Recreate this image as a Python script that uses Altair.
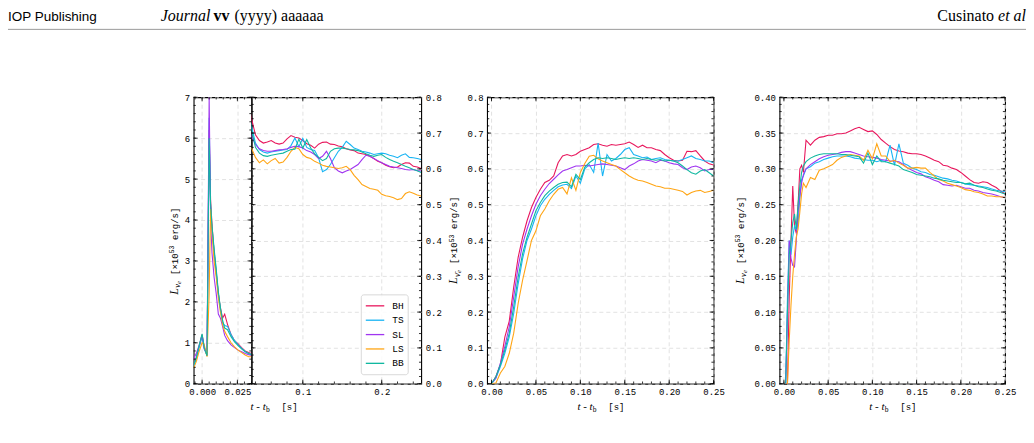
import altair as alt
import numpy as np
import pandas as pd

MODELS = ["BH", "TS", "SL", "LS", "BB"]
COLORS = ["#e8175d", "#18b4f4", "#a035f0", "#ffa514", "#10b8a0"]

# ---------------- nu_e luminosity (left panel, broken axis) ----------------
T_NUE_EARLY = [-0.006, -0.004, -0.002, 0.0, 0.0015, 0.0035, 0.005, 0.006, 0.007, 0.0085,
               0.01, 0.0115, 0.013, 0.0145, 0.016, 0.018, 0.0205, 0.023, 0.0255, 0.028,
               0.0305, 0.033]
NUE_EARLY = {
    "BH": [0.45, 0.65, 0.92, 1.20, 0.90, 0.68, 6.20, 4.50, 3.90, 3.20, 2.70, 2.20, 1.85, 1.60,
           1.70, 1.45, 1.20, 1.05, 0.97, 0.88, 0.80, 0.76],
    "TS": [0.42, 0.62, 0.90, 1.15, 0.85, 0.70, 6.50, 4.30, 3.80, 3.25, 2.75, 2.20, 1.80, 1.50,
           1.42, 1.40, 1.20, 1.05, 0.95, 0.86, 0.79, 0.74],
    "SL": [0.60, 0.75, 0.95, 1.18, 0.85, 0.72, 7.00, 4.00, 3.20, 2.60, 2.20, 1.70, 1.60, 1.40,
           1.18, 1.05, 0.95, 0.88, 0.82, 0.78, 0.74, 0.71],
    "LS": [0.38, 0.55, 0.80, 1.00, 0.95, 0.66, 2.20, 4.27, 3.70, 3.00, 2.60, 2.10, 1.75, 1.45,
           1.28, 1.15, 1.00, 0.90, 0.82, 0.76, 0.70, 0.66],
    "BB": [0.45, 0.65, 0.95, 1.22, 0.88, 0.68, 6.00, 4.40, 3.85, 3.30, 2.80, 2.25, 1.85, 1.55,
           1.36, 1.32, 1.15, 1.02, 0.93, 0.85, 0.78, 0.74],
}
T_NUE_LATE = [0.035, 0.04, 0.045, 0.05, 0.055, 0.06, 0.065, 0.07, 0.075, 0.08, 0.085, 0.09,
              0.095, 0.1, 0.105, 0.11, 0.115, 0.12, 0.125, 0.13, 0.135, 0.14, 0.145, 0.15,
              0.155, 0.16, 0.165, 0.17, 0.175, 0.18, 0.185, 0.19, 0.195, 0.2, 0.205, 0.21,
              0.215, 0.22, 0.225, 0.23, 0.235, 0.24, 0.245, 0.25]
NUE_LATE = {
    "BH": [0.740, 0.695, 0.679, 0.672, 0.675, 0.679, 0.672, 0.669, 0.672, 0.684, 0.693, 0.688,
           0.686, 0.679, 0.670, 0.666, 0.658, 0.669, 0.674, 0.675, 0.669, 0.668, 0.664, 0.662,
           0.656, 0.653, 0.651, 0.644, 0.642, 0.640, 0.635, 0.629, 0.621, 0.617, 0.610, 0.606,
           0.603, 0.605, 0.612, 0.617, 0.616, 0.607, 0.605, 0.601],
    "TS": [0.719, 0.672, 0.654, 0.647, 0.644, 0.647, 0.649, 0.651, 0.653, 0.654, 0.665, 0.686,
           0.662, 0.685, 0.660, 0.654, 0.651, 0.631, 0.592, 0.598, 0.612, 0.631, 0.649, 0.660,
           0.677, 0.668, 0.658, 0.654, 0.649, 0.647, 0.644, 0.640, 0.642, 0.644, 0.642, 0.638,
           0.635, 0.631, 0.638, 0.642, 0.632, 0.631, 0.629, 0.626],
    "SL": [0.691, 0.668, 0.656, 0.651, 0.649, 0.649, 0.651, 0.653, 0.654, 0.656, 0.660, 0.663,
           0.662, 0.658, 0.651, 0.647, 0.640, 0.629, 0.635, 0.649, 0.629, 0.603, 0.594, 0.589,
           0.594, 0.598, 0.605, 0.612, 0.626, 0.638, 0.635, 0.629, 0.623, 0.617, 0.612, 0.607,
           0.605, 0.603, 0.601, 0.598, 0.597, 0.598, 0.595, 0.594],
    "LS": [0.658, 0.632, 0.617, 0.625, 0.614, 0.623, 0.629, 0.616, 0.619, 0.632, 0.649, 0.660,
           0.656, 0.640, 0.632, 0.629, 0.621, 0.616, 0.610, 0.607, 0.605, 0.603, 0.601, 0.603,
           0.607, 0.598, 0.582, 0.570, 0.556, 0.551, 0.545, 0.543, 0.540, 0.529, 0.525, 0.523,
           0.519, 0.514, 0.517, 0.531, 0.536, 0.532, 0.527, 0.524],
    "BB": [0.709, 0.660, 0.644, 0.637, 0.635, 0.638, 0.640, 0.642, 0.644, 0.649, 0.654, 0.655,
           0.683, 0.658, 0.682, 0.658, 0.642, 0.632, 0.623, 0.629, 0.649, 0.656, 0.658, 0.658,
           0.656, 0.654, 0.653, 0.651, 0.647, 0.642, 0.638, 0.635, 0.638, 0.640, 0.632, 0.626,
           0.621, 0.617, 0.612, 0.607, 0.603, 0.598, 0.595, 0.590],
}

# ---------------- anti nu_e luminosity ----------------
T_NUEBAR = [0.0, 0.005, 0.01, 0.015, 0.02, 0.025, 0.03, 0.035, 0.04, 0.045, 0.05, 0.055,
            0.06, 0.065, 0.07, 0.075, 0.08, 0.085, 0.09, 0.095, 0.1, 0.105, 0.11, 0.115,
            0.12, 0.125, 0.13, 0.135, 0.14, 0.145, 0.15, 0.155, 0.16, 0.165, 0.17, 0.175,
            0.18, 0.185, 0.19, 0.195, 0.2, 0.205, 0.21, 0.215, 0.22, 0.225, 0.23, 0.235,
            0.24, 0.245, 0.25]
NUEBAR = {
    "BH": [0.0, 0.02, 0.053, 0.13, 0.175, 0.27, 0.353, 0.409, 0.455, 0.492, 0.52, 0.543, 0.562,
           0.568, 0.58, 0.617, 0.636, 0.64, 0.636, 0.64, 0.649, 0.654, 0.659, 0.668, 0.67,
           0.666, 0.663, 0.668, 0.666, 0.668, 0.67, 0.675, 0.668, 0.66, 0.666, 0.659, 0.659,
           0.654, 0.651, 0.64, 0.631, 0.624, 0.622, 0.624, 0.649, 0.648, 0.651, 0.636, 0.622,
           0.614, 0.611],
    "TS": [0.0, 0.016, 0.048, 0.085, 0.131, 0.196, 0.279, 0.349, 0.4, 0.432, 0.469, 0.497,
           0.515, 0.529, 0.54, 0.55, 0.555, 0.557, 0.545, 0.58, 0.56, 0.6, 0.612, 0.59, 0.672,
           0.58, 0.64, 0.622, 0.629, 0.64, 0.654, 0.659, 0.64, 0.636, 0.631, 0.633, 0.626,
           0.629, 0.631, 0.626, 0.624, 0.622, 0.622, 0.626, 0.631, 0.636, 0.629, 0.626, 0.622,
           0.622, 0.617],
    "SL": [0.0, 0.016, 0.057, 0.104, 0.159, 0.242, 0.326, 0.39, 0.432, 0.469, 0.501, 0.525,
           0.543, 0.559, 0.571, 0.583, 0.594, 0.598, 0.603, 0.608, 0.608, 0.61, 0.608, 0.61,
           0.612, 0.614, 0.612, 0.61, 0.608, 0.603, 0.598, 0.608, 0.614, 0.622, 0.626, 0.624,
           0.622, 0.617, 0.624, 0.622, 0.617, 0.614, 0.612, 0.603, 0.598, 0.605, 0.608, 0.603,
           0.594, 0.598, 0.598],
    "LS": [0.0, 0.002, 0.03, 0.048, 0.085, 0.141, 0.224, 0.289, 0.344, 0.4, 0.427, 0.469,
           0.488, 0.511, 0.529, 0.543, 0.548, 0.53, 0.575, 0.54, 0.59, 0.615, 0.635, 0.638,
           0.628, 0.622, 0.617, 0.612, 0.608, 0.598, 0.589, 0.58, 0.573, 0.568, 0.566, 0.562,
           0.557, 0.552, 0.55, 0.546, 0.546, 0.543, 0.54, 0.537, 0.527, 0.534, 0.538, 0.54,
           0.534, 0.537, 0.54],
    "BB": [0.0, 0.02, 0.053, 0.094, 0.141, 0.215, 0.298, 0.363, 0.409, 0.446, 0.483, 0.506,
           0.525, 0.538, 0.548, 0.557, 0.562, 0.563, 0.55, 0.585, 0.57, 0.605, 0.617, 0.626,
           0.631, 0.629, 0.631, 0.629, 0.626, 0.629, 0.631, 0.629, 0.631, 0.629, 0.626, 0.629,
           0.626, 0.624, 0.626, 0.622, 0.624, 0.622, 0.617, 0.608, 0.598, 0.589, 0.585, 0.594,
           0.598, 0.589, 0.58],
}

# ---------------- heavy-lepton (nu_x) luminosity ----------------
T_NUX = [0.002, 0.004, 0.006, 0.008, 0.01, 0.012, 0.014, 0.016, 0.018, 0.02, 0.022, 0.025,
         0.03, 0.035, 0.04, 0.045, 0.05, 0.055, 0.06, 0.065, 0.07, 0.075, 0.08, 0.085, 0.09,
         0.095, 0.1, 0.105, 0.11, 0.115, 0.12, 0.125, 0.13, 0.135, 0.14, 0.145, 0.15, 0.155,
         0.16, 0.165, 0.17, 0.175, 0.18, 0.185, 0.19, 0.195, 0.2, 0.205, 0.21, 0.215, 0.22,
         0.225, 0.23, 0.235, 0.24, 0.245, 0.25]
NUX = {
    "BH": [0.0, 0.0, 0.12, 0.2, 0.276, 0.22, 0.21, 0.25, 0.3, 0.305, 0.295, 0.34,
           0.333, 0.34, 0.344, 0.345, 0.347, 0.347, 0.349, 0.349, 0.35, 0.353, 0.356, 0.358,
           0.355, 0.352, 0.353, 0.348, 0.341, 0.336,
           0.331, 0.327, 0.325, 0.324, 0.322, 0.321, 0.321, 0.32, 0.318, 0.315, 0.312, 0.31,
           0.305, 0.304, 0.301, 0.299, 0.295, 0.29, 0.285, 0.281, 0.28, 0.282, 0.281, 0.277,
           0.274, 0.269, 0.265],
    "TS": [0.0, 0.12, 0.2, 0.18, 0.205, 0.22, 0.215, 0.222, 0.26, 0.285, 0.29, 0.3,
           0.303, 0.308, 0.31, 0.313, 0.315, 0.317, 0.318, 0.318, 0.318, 0.317, 0.315, 0.314,
           0.313, 0.312, 0.312, 0.31, 0.312, 0.31,
           0.333, 0.305, 0.335, 0.308, 0.305, 0.301, 0.299, 0.296, 0.295, 0.292, 0.291, 0.289,
           0.287, 0.286, 0.284, 0.283, 0.281, 0.279, 0.278, 0.277, 0.276, 0.275, 0.274, 0.272,
           0.27, 0.269, 0.268],
    "SL": [0.0, 0.1, 0.2, 0.175, 0.165, 0.163, 0.2, 0.24, 0.262, 0.28, 0.292, 0.3,
           0.306, 0.31, 0.314, 0.317, 0.319, 0.32, 0.321, 0.323, 0.324, 0.324, 0.322, 0.32,
           0.318, 0.317, 0.316, 0.315, 0.313, 0.312,
           0.311, 0.311, 0.31, 0.306, 0.301, 0.298, 0.295, 0.293, 0.289, 0.287, 0.284, 0.282,
           0.278, 0.277, 0.276, 0.277, 0.275, 0.273, 0.273, 0.27, 0.269, 0.267, 0.266, 0.265,
           0.263, 0.261, 0.26],
    "LS": [0.0, 0.0, 0.06, 0.11, 0.15, 0.18, 0.205, 0.216, 0.24, 0.265, 0.28, 0.274,
           0.288, 0.285, 0.298, 0.3, 0.303, 0.306, 0.312, 0.316, 0.318, 0.32, 0.319, 0.318,
           0.312, 0.326, 0.314, 0.335, 0.318, 0.318,
           0.31, 0.312, 0.308, 0.305, 0.301, 0.301, 0.302, 0.301, 0.301, 0.295, 0.29, 0.285,
           0.283, 0.28, 0.278, 0.276, 0.274, 0.271, 0.27, 0.268, 0.267, 0.265, 0.262, 0.262,
           0.261, 0.261, 0.26],
    "BB": [0.0, 0.1, 0.18, 0.2, 0.225, 0.237, 0.216, 0.25, 0.276, 0.295, 0.304, 0.31,
           0.315, 0.318, 0.32, 0.321, 0.321, 0.321, 0.321, 0.32, 0.32, 0.319, 0.318, 0.317,
           0.308, 0.322, 0.306, 0.318, 0.31, 0.31,
           0.308, 0.306, 0.304, 0.299, 0.297, 0.295, 0.292, 0.291, 0.29, 0.289, 0.287, 0.286,
           0.284, 0.283, 0.282, 0.281, 0.281, 0.279, 0.28, 0.277, 0.275, 0.274, 0.272, 0.27,
           0.269, 0.267, 0.265],
}

# ---------------- tick labels ----------------
P1A_XTICKS = [0.0, 0.025]
P1A_YTICKS = [0, 1, 2, 3, 4, 5, 6, 7]
P1B_XTICKS = [0.1, 0.2]
P1B_YTICKS = [0.0, 0.1, 0.2, 0.3, 0.4, 0.5, 0.6, 0.7, 0.8]
P2_XTICKS = [0.0, 0.05, 0.1, 0.15, 0.2, 0.25]
P2_YTICKS = [0.0, 0.1, 0.2, 0.3, 0.4, 0.5, 0.6, 0.7, 0.8]
P3_XTICKS = [0.0, 0.05, 0.1, 0.15, 0.2, 0.25]
P3_YTICKS = [0.0, 0.05, 0.1, 0.15, 0.2, 0.25, 0.3, 0.35, 0.4]

MONO = "Liberation Mono"
SERIF = "Liberation Serif"
SANS = "Liberation Sans"
DUMMY = pd.DataFrame({"a": [0]})
CSCALE = alt.Scale(domain=MODELS, range=COLORS)


def long_df(t, series):
    rows = []
    for m in MODELS:
        vals = series[m]
        assert len(vals) == len(t), (m, len(vals), len(t))
        for ti, v in zip(t, vals):
            rows.append({"t": ti, "L": v, "model": m})
    return pd.DataFrame(rows)


def txt(s, x, y, size=10, font=MONO, style="normal", weight="normal", align="left",
        baseline="alphabetic", angle=0, color="black"):
    return alt.Chart(DUMMY).mark_text(
        text=s, fontSize=size, font=font, fontStyle=style, fontWeight=weight,
        align=align, baseline=baseline, angle=angle, color=color
    ).encode(x=alt.value(x), y=alt.value(y))


def minor_vals(dom, step):
    start = np.ceil(dom[0] / step - 1e-9) * step
    vals = np.round(np.arange(start, dom[1] + 1e-9, step), 6)
    return [float(v) for v in vals if dom[0] - 1e-9 <= v <= dom[1] + 1e-9]


def panel(df, xdom, ydom, w, h, xmaj, xstep, xfmt, ymaj, ystep, yfmt, yorient, extras):
    xs = alt.Scale(domain=xdom, nice=False, zero=False)
    ys = alt.Scale(domain=ydom, nice=False, zero=False)
    xa = alt.Axis(values=xmaj, format=xfmt, title=None, orient="bottom")
    ya = alt.Axis(values=ymaj, format=yfmt, title=None, orient=yorient)
    lines = alt.Chart(df).mark_line(strokeWidth=1.1, clip=True).encode(
        x=alt.X("t:Q", scale=xs, axis=xa),
        y=alt.Y("L:Q", scale=ys, axis=ya),
        color=alt.Color("model:N", scale=CSCALE, legend=None),
        detail="model:N",
    )
    ticks = []
    for vals, size in ((xmaj, 4.0), (minor_vals(xdom, xstep), 2.2)):
        vals = [v for v in vals if xdom[0] - 1e-9 <= v <= xdom[1] + 1e-9]
        base = alt.Chart(pd.DataFrame({"t": vals})).mark_rule(color="black", strokeWidth=0.8)
        ticks.append(base.encode(x=alt.X("t:Q", scale=xs, axis=xa),
                                 y=alt.value(h), y2=alt.value(h - size)))
        ticks.append(base.encode(x=alt.X("t:Q", scale=xs, axis=xa),
                                 y=alt.value(0), y2=alt.value(size)))
    for vals, size in ((ymaj, 4.0), (minor_vals(ydom, ystep), 2.2)):
        vals = [v for v in vals if ydom[0] - 1e-9 <= v <= ydom[1] + 1e-9]
        base = alt.Chart(pd.DataFrame({"L": vals})).mark_rule(color="black", strokeWidth=0.8)
        ticks.append(base.encode(y=alt.Y("L:Q", scale=ys, axis=ya),
                                 x=alt.value(0), x2=alt.value(size)))
        ticks.append(base.encode(y=alt.Y("L:Q", scale=ys, axis=ya),
                                 x=alt.value(w), x2=alt.value(w - size)))
    layers = [lines] + ticks + extras
    return alt.layer(*layers).properties(width=w, height=h)


def ytitle(bx, sy, sub):
    return [
        txt("L", bx, sy, size=12, font=SERIF, style="italic", angle=270),
        txt(sub, bx + 2.5, sy - 7, size=8.5, font=SERIF, style="italic", angle=270),
        txt("e", bx + 3.5, sy - 11, size=6.5, font=SERIF, style="italic", angle=270),
        txt("[\u00d710", bx, sy - 20, size=9, angle=270),
        txt("53", bx - 3.5, sy - 41.6, size=6.5, angle=270),
        txt("erg/s]", bx, sy - 55, size=9, angle=270),
    ]


def xtitle(cx, y):
    return [
        txt("t - t", cx - 23, y, size=11, font=SERIF, style="italic"),
        txt("b", cx - 7.5, y + 2.5, size=7.5, font=SERIF),
        txt("[s]", cx + 8, y, size=9),
    ]


def spacer(w, h):
    return alt.Chart(DUMMY).mark_rule(opacity=0).encode(
        x=alt.value(0), y=alt.value(0)
    ).properties(width=w, height=h, view=alt.ViewBackground(strokeOpacity=0))


H = 287
W1A, W1B, W2, W3 = 58, 170, 227, 226
GAP = 66
OX, OY = 193, 96  # absolute position of the first plot area

# header (drawn in the first panel, coordinates relative to its origin)
header = [
    alt.Chart(DUMMY).mark_rect(opacity=0).encode(
        x=alt.value(-OX), x2=alt.value(1034 - OX), y=alt.value(-OY), y2=alt.value(443 - OY)),
    txt("IOP Publishing", 7 - OX, 20 - OY, size=13.5, font=SANS),
    txt("Journal", 160 - OX, 20 - OY, size=16, font=SERIF, style="italic"),
    txt("vv", 213 - OX, 20 - OY, size=16, font=SERIF, weight="bold"),
    txt("(yyyy) aaaaaa", 234 - OX, 20 - OY, size=16, font=SERIF),
    txt("et al", 1027 - OX, 20 - OY, size=16, font=SERIF, style="italic", align="right"),
    txt("Cusinato", 995 - OX, 20 - OY, size=16, font=SERIF, align="right"),
    alt.Chart(DUMMY).mark_rule(color="#808080", strokeWidth=0.8).encode(
        x=alt.value(7 - OX), x2=alt.value(1027 - OX), y=alt.value(28 - OY)),
]

df_nue = pd.concat([long_df(T_NUE_EARLY, NUE_EARLY), long_df(T_NUE_LATE, NUE_LATE)])
df_nue["model"] = pd.Categorical(df_nue["model"], MODELS)
df_nue = df_nue.sort_values(["model", "t"]).reset_index(drop=True)
df_nue["model"] = df_nue["model"].astype(str)

p1a = panel(df_nue, [-0.006, 0.035], [0, 7], W1A, H, P1A_XTICKS, 0.005, ".3f",
            P1A_YTICKS, 0.2, "d", "left", ytitle(-16, 198, "\u03bd") + header)

# legend inside the right half of the first panel
leg = [alt.Chart(DUMMY).mark_rect(fill="white", fillOpacity=0.85, stroke="#cfcfcf",
                                  strokeWidth=0.8, cornerRadius=2.5).encode(
    x=alt.value(110), x2=alt.value(157), y=alt.value(198), y2=alt.value(278))]
for i, (m, c) in enumerate(zip(MODELS, COLORS)):
    yy = 209 + 14.4 * i
    leg.append(alt.Chart(DUMMY).mark_rule(color=c, strokeWidth=1.3).encode(
        x=alt.value(114.5), x2=alt.value(133), y=alt.value(yy)))
    leg.append(txt(m, 141, yy, size=9.5, baseline="middle"))

p1b = panel(df_nue, [0.035, 0.25], [0, 0.8], W1B, H, P1B_XTICKS, 0.02, ".1f",
            P1B_YTICKS, 0.02, ".1f", "right", leg + xtitle(22, 313))

p2 = panel(long_df(T_NUEBAR, NUEBAR), [-0.005, 0.25], [0, 0.8], W2, H, P2_XTICKS, 0.01,
           ".2f", P2_YTICKS, 0.02, ".1f", "left",
           ytitle(-30, 187, "\u03bd\u0304") + xtitle(W2 / 2, 313))

p3 = panel(long_df(T_NUX, NUX), [-0.005, 0.25], [0, 0.4], W3, H, P3_XTICKS, 0.01,
           ".2f", P3_YTICKS, 0.01, ".2f", "left",
           ytitle(-36, 187, "\u03bd") + xtitle(W3 / 2, 313))

chart = alt.hconcat(p1a, p1b, spacer(GAP, H), p2, spacer(GAP, H), p3,
                    spacing=0, bounds="flush").properties(
    padding=0, background="white"
).configure_view(
    stroke="black", strokeWidth=1.1
).configure_axis(
    labelFont=MONO, labelFontSize=9, labelColor="black", ticks=False, domain=False,
    gridColor="#dadada", gridDash=[4, 3], gridWidth=0.8, labelFlush=False,
    labelOverlap=False, labelPadding=4
)

chart.save("out.html", embed_options={"renderer": "svg", "actions": False})
